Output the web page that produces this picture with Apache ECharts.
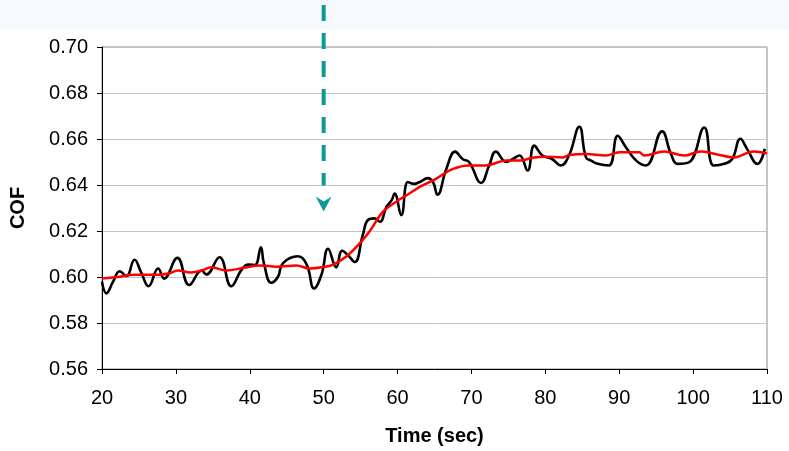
<!DOCTYPE html>
<html>
<head>
<meta charset="utf-8">
<script src="https://cdn.jsdelivr.net/npm/echarts@6/dist/echarts.min.js"></script>
<style>
  html, body { margin: 0; padding: 0; background: #ffffff; }
  #chart { width: 789px; height: 451px; }
</style>
</head>
<body>
<div id="chart"></div>
<script>
// Raw friction coefficient trace (time in sec, COF)
const rawTime = [20.0, 20.6, 21.5, 22.4, 23.3, 24.4, 25.3, 26.3, 27.6, 28.4, 30.2, 31.8, 33.5, 34.1, 35.9, 37.5, 38.9, 39.8, 40.7, 41.5, 41.9, 42.9, 43.8, 44.5, 46.5, 47.7, 48.7, 49.7, 50.6, 51.7, 52.5, 53.3, 54.2, 55.3, 56.0, 56.9, 57.6, 58.5, 59.2, 59.6, 60.5, 61.4, 62.2, 63.0, 64.1, 64.8, 65.4, 66.6, 67.8, 68.8, 69.7, 71.3, 72.4, 73.3, 74.7, 75.6, 76.5, 77.6, 78.5, 79.6, 80.9, 82.1, 83.2, 84.6, 85.5, 86.2, 87.1, 88.6, 89.8, 90.9, 92.3, 93.6, 95.8, 97.0, 97.9, 99.5, 101.5, 102.8, 104.2, 105.3, 106.4, 107.3, 108.7, 109.7];
const rawCOF = [0.598, 0.5929, 0.598, 0.6025, 0.6004, 0.6075, 0.602, 0.596, 0.6037, 0.5993, 0.6083, 0.5965, 0.6028, 0.6011, 0.6086, 0.596, 0.6032, 0.6054, 0.6052, 0.6129, 0.6062, 0.5975, 0.600, 0.606, 0.609, 0.6054, 0.595, 0.601, 0.6123, 0.6042, 0.6114, 0.6094, 0.6065, 0.6183, 0.6248, 0.6255, 0.624, 0.6305, 0.6334, 0.6363, 0.6269, 0.6413, 0.6405, 0.6413, 0.643, 0.6413, 0.6358, 0.647, 0.6545, 0.6513, 0.6499, 0.6409, 0.6485, 0.6545, 0.650, 0.6513, 0.6528, 0.6463, 0.6571, 0.6528, 0.6513, 0.6485, 0.6528, 0.6653, 0.652, 0.6506, 0.6492, 0.6485, 0.6614, 0.6564, 0.6506, 0.6485, 0.6633, 0.6535, 0.6492, 0.650, 0.665, 0.6485, 0.6492, 0.6513, 0.6601, 0.6557, 0.6492, 0.6557];

// Running average of the trace
const avgTime = [20, 22, 24.5, 26, 27.6, 29, 30.3, 32, 33.5, 34.8, 36.8, 39.2, 41.4, 43.6, 46.3, 48.1, 49.7, 51.3, 53.1, 54.9, 56.2, 58.0, 59.8, 61.6, 63, 63.9, 65.2, 67.5, 69.7, 71.9, 74.7, 76.5, 78.5, 80.1, 82.3, 83.2, 85.5, 88.2, 90, 92.7, 93.4, 96.1, 98.8, 101, 103, 105.5, 108.2, 110];
const avgCOF = [0.5993, 0.600, 0.601, 0.601, 0.601, 0.6015, 0.6028, 0.602, 0.6028, 0.6042, 0.6028, 0.604, 0.605, 0.6045, 0.605, 0.6037, 0.6042, 0.6054, 0.609, 0.6147, 0.6198, 0.6283, 0.6327, 0.6363, 0.6392, 0.6406, 0.6427, 0.647, 0.6485, 0.6485, 0.6506, 0.6506, 0.652, 0.6523, 0.652, 0.653, 0.6535, 0.6528, 0.6542, 0.6542, 0.6528, 0.6546, 0.6528, 0.6546, 0.6535, 0.652, 0.6546, 0.6537];

// Axis ticks
const xTicks = [20, 30, 40, 50, 60, 70, 80, 90, 100, 110];
const yTicks = [0.56, 0.58, 0.60, 0.62, 0.64, 0.66, 0.68, 0.70];

// Event marker: time and the COF level where the arrow tip points
const eventTime = [50];
const eventTipCOF = [0.6285];

const zip = (a, b) => a.map((v, i) => [v, b[i]]);

const chart = echarts.init(document.getElementById('chart'), null, { renderer: 'canvas' });

const font = 'Arial, "Liberation Sans", sans-serif';

chart.setOption({
  animation: false,
  backgroundColor: '#ffffff',
  grid: {
    left: 102, right: 22, top: 47, bottom: 79,
    show: true, borderColor: '#8c8c8c', borderWidth: 1, backgroundColor: 'transparent'
  },
  xAxis: {
    type: 'value',
    min: xTicks[0], max: xTicks[xTicks.length - 1], interval: 10,
    name: 'Time (sec)', nameLocation: 'middle', nameGap: 57,
    nameTextStyle: { fontFamily: font, fontSize: 20, fontWeight: 'bold', color: '#000' },
    axisLine: { lineStyle: { color: '#000', width: 1 } },
    axisTick: { show: true, length: 5, lineStyle: { color: '#000' } },
    axisLabel: { fontFamily: font, fontSize: 20, color: '#000', margin: 19 },
    splitLine: { show: false }
  },
  yAxis: {
    type: 'value',
    min: yTicks[0], max: yTicks[yTicks.length - 1], interval: 0.02,
    name: 'COF', nameLocation: 'middle', nameGap: 74, nameRotate: 90,
    nameTextStyle: { fontFamily: font, fontSize: 20, fontWeight: 'bold', color: '#000' },
    axisLine: { show: true, lineStyle: { color: '#000', width: 1 } },
    axisTick: { show: true, length: 5, lineStyle: { color: '#000' } },
    axisLabel: { fontFamily: font, fontSize: 20, color: '#000', margin: 14,
      formatter: v => v.toFixed(2) },
    splitLine: { show: true, lineStyle: { color: '#c4c4c4', width: 1 } }
  },
  series: [
    {
      type: 'line', name: 'raw', data: zip(rawTime, rawCOF),
      smooth: 0.45, showSymbol: false, symbol: 'none',
      lineStyle: { color: '#000000', width: 2.6 }, z: 3
    },
    {
      type: 'line', name: 'avg', data: zip(avgTime, avgCOF),
      smooth: 0.4, showSymbol: false, symbol: 'none',
      lineStyle: { color: '#ff0000', width: 2.5 }, z: 4
    }
  ]
});

// Header band and the dashed event arrow, placed via the axes
function drawOverlay() {
  const x = chart.convertToPixel({ xAxisIndex: 0 }, eventTime[0]);
  const tipY = chart.convertToPixel({ yAxisIndex: 0 }, eventTipCOF[0]);
  const teal = '#0d9a96';
  chart.setOption({
    graphic: [
      { type: 'rect', z: -10, shape: { x: 0, y: 0, width: 789, height: 30 },
        style: { fill: '#f5f9fb' } },
      { type: 'line', z: 10, shape: { x1: x, y1: 5, x2: x, y2: tipY - 26 },
        style: { stroke: teal, lineWidth: 4, lineDash: [16, 12] } },
      { type: 'polygon', z: 10,
        shape: { points: [[x - 8, tipY - 15], [x, tipY - 10], [x + 8, tipY - 15], [x, tipY]] },
        style: { fill: teal } }
    ]
  });
}
drawOverlay();
</script>
</body>
</html>
